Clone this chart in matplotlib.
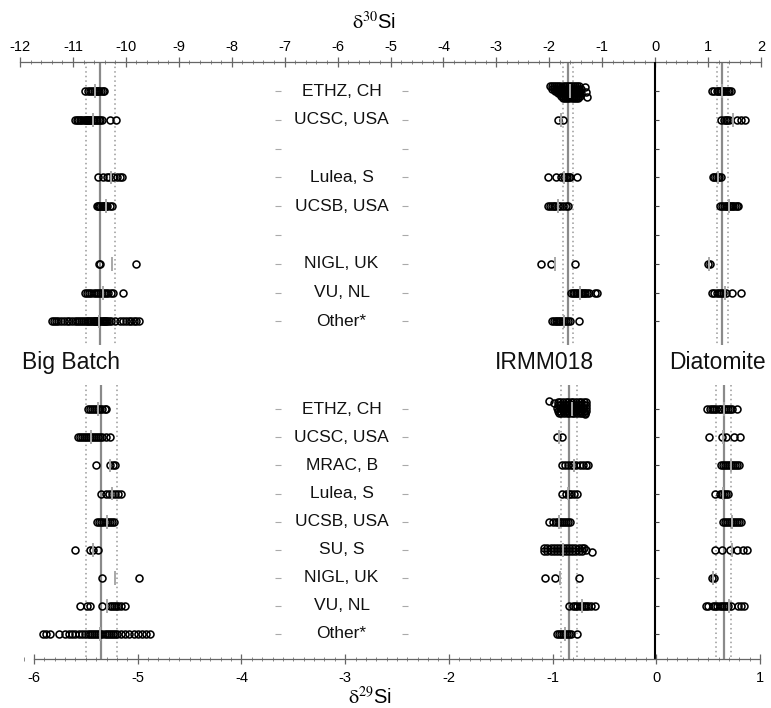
import matplotlib
matplotlib.use("Agg")
import matplotlib.pyplot as plt
from matplotlib.ticker import MultipleLocator

plt.rcParams['font.family'] = ['Liberation Sans', 'DejaVu Sans']
plt.rcParams['mathtext.fontset'] = 'stix'

# --- data ---
labs_top = ["ETHZ, CH", "UCSC, USA", "", "Lulea, S", "UCSB, USA", "", "NIGL, UK", "VU, NL", "Other*"]
labs_bottom = ["ETHZ, CH", "UCSC, USA", "MRAC, B", "Lulea, S", "UCSB, USA", "SU, S", "NIGL, UK", "VU, NL", "Other*"]

ref_names = ["Big Batch", "IRMM018", "Diatomite"]
ref_d30_mean = [-10.48, -1.65, 1.27]
ref_d30_2sd = [0.27, 0.10, 0.10]
ref_d29_mean = [-5.35, -0.84, 0.65]
ref_d29_2sd = [0.15, 0.08, 0.07]

# delta30Si, one list per lab row (top block)
bb_d30 = [
    [-10.77, -10.72, -10.68, -10.64, -10.60, -10.57, -10.55, -10.52, -10.50, -10.47, -10.44, -10.41],
    [-10.96, -10.93, -10.90, -10.87, -10.84, -10.81, -10.78, -10.76, -10.74, -10.72, -10.70, -10.68,
     -10.66, -10.63, -10.60, -10.57, -10.54, -10.51, -10.48, -10.45, -10.30, -10.19],
    [],
    [-10.52, -10.43, -10.36, -10.31, -10.24, -10.17, -10.11, -10.07],
    [-10.55, -10.52, -10.50, -10.48, -10.46, -10.44, -10.42, -10.40, -10.38, -10.35, -10.30, -10.27],
    [],
    [-10.51, -10.49, -9.81],
    [-10.77, -10.73, -10.69, -10.65, -10.61, -10.57, -10.53, -10.49, -10.45, -10.41, -10.37, -10.33,
     -10.29, -10.25, -10.05],
    [-11.40, -11.36, -11.32, -11.28, -11.22, -11.17, -11.12, -11.07, -11.02, -10.97, -10.93, -10.89,
     -10.85, -10.81, -10.77, -10.74, -10.71, -10.68, -10.65, -10.62, -10.60, -10.58, -10.56, -10.54,
     -10.52, -10.50, -10.48, -10.46, -10.44, -10.42, -10.40, -10.38, -10.35, -10.32, -10.28, -10.20,
     -10.12, -10.05, -10.00, -9.95, -9.90, -9.85, -9.80, -9.75],
]
bb_d30_labmean = [-10.58, -10.63, None, -10.28, -10.38, None, -10.26, -10.44, -10.51]

irmm_d30 = [
    [-1.32, -1.31, -1.29],
    [-1.84, -1.75],
    [],
    [-2.03, -1.87, -1.78, -1.72, -1.69, -1.66, -1.63, -1.60, -1.47],
    [-2.03, -1.98, -1.94, -1.92, -1.89, -1.84, -1.79, -1.74, -1.69, -1.65],
    [],
    [-2.16, -1.97, -1.52],
    [-1.59, -1.56, -1.53, -1.50, -1.47, -1.44, -1.41, -1.38, -1.35, -1.32, -1.29, -1.25, -1.13, -1.09],
    [-1.94, -1.91, -1.88, -1.85, -1.82, -1.79, -1.76, -1.72, -1.68, -1.64, -1.60, -1.43],
]
irmm_d30_dy0 = [-0.14, 0.03, 0.21]  # vertical spread of the three ETHZ outliers
irmm_d30_labmean = [-1.61, -1.78, None, -1.72, -1.84, None, -1.89, -1.415, -1.73]

# dense ETHZ IRMM018 cloud, stacked layers
ethz_irmm_d30_layers = [
    [-1.99, -1.95, -1.91, -1.87, -1.83, -1.79, -1.75, -1.71, -1.67, -1.63, -1.59, -1.55, -1.51, -1.47, -1.43],
    [-1.95, -1.91, -1.87, -1.83, -1.79, -1.75, -1.71, -1.67, -1.63, -1.59, -1.55, -1.51, -1.47, -1.43, -1.40],
    [-1.90, -1.86, -1.82, -1.78, -1.74, -1.70, -1.66, -1.62, -1.58, -1.54, -1.50, -1.46, -1.42],
    [-1.84, -1.80, -1.76, -1.72, -1.68, -1.64, -1.60, -1.56, -1.52, -1.48, -1.44, -1.41],
    [-1.78, -1.74, -1.70, -1.66, -1.62, -1.58, -1.54, -1.50, -1.46, -1.42],
    [-1.74, -1.70, -1.66, -1.62, -1.58, -1.54, -1.50, -1.46],
]
ethz_irmm_d30_dy = [-0.16, -0.08, 0.0, 0.08, 0.16, 0.23]

dia_d30 = [
    [1.08, 1.12, 1.16, 1.19, 1.22, 1.25, 1.28, 1.31, 1.34, 1.37, 1.40, 1.43],
    [1.24, 1.30, 1.33, 1.36, 1.40, 1.55, 1.63, 1.70],
    [],
    [1.09, 1.12, 1.15, 1.18, 1.21, 1.24],
    [1.22, 1.26, 1.30, 1.33, 1.36, 1.39, 1.42, 1.45, 1.48, 1.51, 1.54, 1.57],
    [],
    [0.99, 1.03],
    [1.08, 1.12, 1.16, 1.20, 1.24, 1.28, 1.33, 1.46, 1.62],
    [],
]
dia_d30_labmean = [1.26, 1.47, None, 1.18, 1.40, None, 1.01, 1.32, None]

# delta29Si, one list per lab row (bottom block)
bb_d29 = [
    [-5.48, -5.46, -5.44, -5.42, -5.40, -5.38, -5.36, -5.34, -5.32, -5.31],
    [-5.58, -5.56, -5.54, -5.52, -5.50, -5.48, -5.46, -5.44, -5.42, -5.40, -5.38, -5.36, -5.34, -5.31, -5.27],
    [-5.40, -5.27, -5.24, -5.22],
    [-5.35, -5.31, -5.28, -5.25, -5.22, -5.19, -5.16],
    [-5.39, -5.37, -5.35, -5.33, -5.31, -5.29, -5.27, -5.25, -5.23],
    [-5.60, -5.46, -5.43, -5.38],
    [-5.34, -4.99],
    [-5.56, -5.49, -5.46, -5.34, -5.27, -5.25, -5.23, -5.21, -5.19, -5.16, -5.12],
    [-5.91, -5.88, -5.85, -5.76, -5.70, -5.66, -5.63, -5.60, -5.57, -5.54, -5.51, -5.48, -5.46, -5.44,
     -5.42, -5.40, -5.38, -5.36, -5.34, -5.32, -5.30, -5.28, -5.26, -5.24, -5.22, -5.20, -5.16, -5.12,
     -5.08, -5.04, -5.00, -4.96, -4.92, -4.88],
]
bb_d29_labmean = [-5.38, -5.45, -5.27, -5.25, -5.30, -5.43, -5.22, -5.30, -5.36]

irmm_d29 = [
    [-1.03, -0.99, -0.69],
    [-0.96, -0.91],
    [-0.91, -0.88, -0.85, -0.82, -0.80, -0.77, -0.74, -0.71, -0.68, -0.66],
    [-0.91, -0.87, -0.84, -0.82, -0.79, -0.76],
    [-1.03, -1.00, -0.97, -0.95, -0.93, -0.91, -0.89, -0.87, -0.85, -0.83],
    [-0.675, -0.62],
    [-1.07, -0.98, -0.745],
    [-0.84, -0.80, -0.78, -0.76, -0.74, -0.72, -0.70, -0.68, -0.66, -0.63, -0.59],
    [-0.96, -0.94, -0.92, -0.90, -0.88, -0.86, -0.84, -0.82, -0.76],
]
irmm_d29_dy0 = [-0.29, -0.22, 0.17]
irmm_d29_dy5 = [0.0, 0.08]
irmm_d29_labmean = [-0.81, -0.94, -0.79, -0.85, -0.94, -0.90, -0.93, -0.72, -0.88]

ethz_irmm_d29_layers = [
    [-0.95, -0.925, -0.90, -0.875, -0.85, -0.825, -0.80, -0.775, -0.75, -0.725, -0.70, -0.68],
    [-0.95, -0.925, -0.90, -0.875, -0.85, -0.825, -0.80, -0.775, -0.75, -0.725, -0.70, -0.675],
    [-0.955, -0.93, -0.905, -0.88, -0.855, -0.83, -0.805, -0.78, -0.755, -0.73, -0.705, -0.675],
    [-0.95, -0.925, -0.90, -0.875, -0.85, -0.825, -0.80, -0.775, -0.75, -0.725, -0.70, -0.675],
    [-0.94, -0.915, -0.89, -0.865, -0.84, -0.815, -0.79, -0.765, -0.74, -0.715, -0.69],
]
ethz_irmm_d29_dy = [-0.24, -0.14, -0.04, 0.06, 0.14]

su_irmm_d29_layers = [
    [-1.08, -1.05, -1.02, -0.99, -0.96, -0.93, -0.90, -0.87, -0.84, -0.81, -0.78, -0.75, -0.72, -0.70],
    [-1.08, -1.05, -1.02, -0.99, -0.96, -0.93, -0.90, -0.87, -0.84, -0.81, -0.78, -0.75, -0.72],
]
su_irmm_d29_dy = [-0.05, 0.05]

dia_d29 = [
    [0.49, 0.52, 0.54, 0.56, 0.58, 0.60, 0.62, 0.65, 0.67, 0.69, 0.71, 0.73, 0.78],
    [0.51, 0.63, 0.675, 0.745, 0.81],
    [0.62, 0.64, 0.66, 0.68, 0.70, 0.72, 0.74, 0.76, 0.78, 0.80],
    [0.57, 0.61, 0.63, 0.65, 0.67, 0.69],
    [0.64, 0.66, 0.68, 0.70, 0.72, 0.74, 0.76, 0.78, 0.80, 0.82],
    [0.57, 0.63, 0.71, 0.78, 0.84, 0.875],
    [0.54, 0.56],
    [0.48, 0.50, 0.55, 0.57, 0.59, 0.61, 0.63, 0.65, 0.67, 0.69, 0.72, 0.79, 0.82, 0.85],
    [],
]
dia_d29_labmean = [0.656, 0.64, 0.72, 0.64, 0.73, 0.73, 0.55, 0.70, None]

# --- layout ---
Y_TOP = [i for i in range(9)]
Y_BOT = [11.05 + 0.975 * j for j in range(9)]
Y_MIN, Y_MAX = -1.007, 19.72
TOP_END, BOT_START = 8.82, 10.21

LINE_GREY = '#8a8a8a'
MARK = dict(ls='none', marker='o', ms=5.0, mfc='none', mec='black', mew=1.15, zorder=4)

fig = plt.figure(figsize=(7.71, 7.08), dpi=100)
ax = fig.add_axes([20 / 771, 1 - 659 / 708, 741 / 771, 597 / 708])
ax2 = ax.twiny()

ax.set_xlim(-12, 2)
ax2.set_xlim(-6.135, 1.0096)
ax.set_ylim(Y_MAX, Y_MIN)

# spines
for a in (ax, ax2):
    a.spines['left'].set_visible(False)
    a.spines['right'].set_visible(False)
    a.set_yticks([])
ax.spines['bottom'].set_visible(False)
ax2.spines['top'].set_visible(False)
ax.spines['top'].set_bounds(-12, 2)
ax2.spines['bottom'].set_bounds(-6, 1)
for sp in (ax.spines['top'], ax2.spines['bottom']):
    sp.set_color('#666666')
    sp.set_linewidth(0.9)

ax.xaxis.tick_top()
ax2.xaxis.tick_bottom()
ax.xaxis.set_major_locator(MultipleLocator(1))
ax.xaxis.set_minor_locator(MultipleLocator(0.2))
ax2.xaxis.set_major_locator(MultipleLocator(1))
ax2.xaxis.set_minor_locator(MultipleLocator(0.1))
ax.tick_params(axis='x', which='major', direction='inout', length=7, width=0.9,
               color='#666666', labelsize=10.5, pad=2, top=True, bottom=False)
ax.tick_params(axis='x', which='minor', direction='inout', length=3.5, width=0.7,
               color='#888888', top=True, bottom=False)
ax2.tick_params(axis='x', which='major', direction='inout', length=7, width=0.9,
                color='#666666', labelsize=10.5, pad=5, top=False, bottom=True)
ax2.tick_params(axis='x', which='minor', direction='inout', length=3.5, width=0.7,
                color='#888888', top=False, bottom=True)
ax.set_xticks(range(-12, 3))
ax2.set_xticks(range(-6, 2))
ax.set_xticklabels([str(v) for v in range(-12, 3)])
ax2.set_xticklabels([str(v) for v in range(-6, 2)])

fig.text(374 / 771, 1 - 22 / 708, r'$\mathrm{\delta}^{30}$Si', ha='center', va='center', fontsize=14.5)
fig.text(370 / 771, 1 - 697 / 708, r'$\mathrm{\delta}^{29}$Si', ha='center', va='center', fontsize=14.5)

# zero line and its small ticks
ax.axvline(0, color='black', lw=1.5, zorder=3)
ax.hlines(Y_TOP + Y_BOT, 0, 0.08, color='#444444', lw=0.8, zorder=3)

# reference mean and 2SD lines
for m, s in zip(ref_d30_mean, ref_d30_2sd):
    ax.vlines(m, Y_MIN, TOP_END, color=LINE_GREY, lw=1.6, zorder=2)
    ax.vlines([m - s, m + s], Y_MIN, TOP_END, color='#999999', lw=1.1, linestyles=(0, (1, 2)), zorder=2)
for m, s in zip(ref_d29_mean, ref_d29_2sd):
    ax2.vlines(m, BOT_START, Y_MAX, color=LINE_GREY, lw=1.6, zorder=2)
    ax2.vlines([m - s, m + s], BOT_START, Y_MAX, color='#999999', lw=1.1, linestyles=(0, (1, 2)), zorder=2)

# row labels and little dashes
ytr = ax.get_yaxis_transform()
for y, lab in zip(Y_TOP + Y_BOT, labs_top + labs_bottom):
    if lab:
        ax.text(0.434, y, lab, transform=ytr, ha='center', va='center', fontsize=12.5, color='#111111')
    ax.plot([0.348, 0.520], [y, y], transform=ytr, ls='none', marker='_', ms=4, mew=0.8, color='#aaaaaa')

# group labels
for name, xf in zip(ref_names, [0.069, 0.708, 0.941]):
    ax.text(xf, 9.41, name, transform=ytr, ha='center', va='center', fontsize=16.5, color='#111111')


def draw_rows(a, rows, ypos, skip=()):
    for i, (vals, y) in enumerate(zip(rows, ypos)):
        if vals and i not in skip:
            a.plot(vals, [y] * len(vals), **MARK)


def draw_means(a, means, ypos):
    for m, y in zip(means, ypos):
        if m is not None:
            a.vlines(m, y - 0.24, y + 0.24, color='#a8a8a8', lw=1.4, zorder=5)


def draw_layers(a, layers, dys, y):
    for vals, dy in zip(layers, dys):
        a.plot(vals, [y + dy] * len(vals), **MARK)


# top block (delta30)
draw_rows(ax, bb_d30, Y_TOP)
draw_rows(ax, irmm_d30, Y_TOP, skip=(0,))
ax.plot(irmm_d30[0], [Y_TOP[0] + d for d in irmm_d30_dy0], **MARK)
draw_layers(ax, ethz_irmm_d30_layers, ethz_irmm_d30_dy, Y_TOP[0])
draw_rows(ax, dia_d30, Y_TOP)
for means in (bb_d30_labmean, irmm_d30_labmean, dia_d30_labmean):
    draw_means(ax, means, Y_TOP)

# bottom block (delta29)
draw_rows(ax2, bb_d29, Y_BOT)
draw_rows(ax2, irmm_d29, Y_BOT, skip=(0, 5))
ax2.plot(irmm_d29[0], [Y_BOT[0] + d for d in irmm_d29_dy0], **MARK)
ax2.plot(irmm_d29[5], [Y_BOT[5] + d for d in irmm_d29_dy5], **MARK)
draw_layers(ax2, ethz_irmm_d29_layers, ethz_irmm_d29_dy, Y_BOT[0])
draw_layers(ax2, su_irmm_d29_layers, su_irmm_d29_dy, Y_BOT[5])
draw_rows(ax2, dia_d29, Y_BOT)
for means in (bb_d29_labmean, irmm_d29_labmean, dia_d29_labmean):
    draw_means(ax2, means, Y_BOT)

fig.savefig("out.png", dpi=100)
